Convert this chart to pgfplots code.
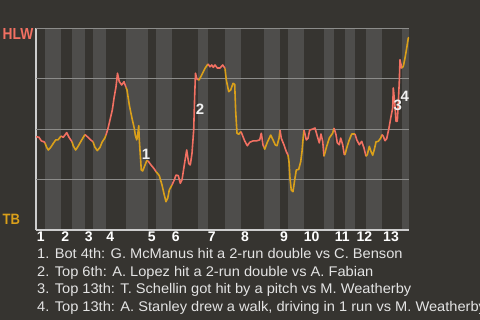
\documentclass[border=0pt]{standalone}
\usepackage{pgfplots}
\pgfplotsset{compat=1.18}
\usepackage{fontspec}
\setmainfont{Liberation Sans}
\definecolor{bg}{RGB}{54,52,48}
\definecolor{band}{RGB}{78,77,75}
\definecolor{hlw}{RGB}{242,112,98}
\definecolor{tb}{RGB}{218,160,26}
\definecolor{gridc}{RGB}{140,140,138}
\definecolor{axc}{RGB}{205,205,205}
\definecolor{txt}{RGB}{228,228,228}
\tikzset{rl/.style={hlw, line width=1.6pt, line join=round},
         yl/.style={tb, line width=1.6pt, line join=round},
         gl/.style={gridc, line width=0.9pt}}
\begin{document}
\begin{tikzpicture}
\fill[bg] (0pt,0pt) rectangle (480pt,320pt);
\begin{axis}[
  at={(36pt,90pt)}, anchor=south west,
  scale only axis, width=373pt, height=202pt,
  xmin=36, xmax=409, ymin=0, ymax=1,
  axis x line=bottom, axis y line=left,
  axis line style={axc, line width=1.2pt, -},
  ytick=\empty,
  major tick length=0pt,
  xtick={40.7,65.3,88.8,110.3,151.7,175.7,211.7,245,284,311.7,342.3,364.3,391},
  xticklabels={1,2,3,4,5,6,7,8,9,10,11,12,13},
  xticklabel style={font=\bfseries\fontsize{14}{14}\selectfont, text=white, inner sep=0pt, yshift=-1.5pt},
]
\fill[band] (axis cs:45,0.003) rectangle (axis cs:61,1);
\fill[band] (axis cs:72,0.003) rectangle (axis cs:85,1);
\fill[band] (axis cs:93,0.003) rectangle (axis cs:106,1);
\fill[band] (axis cs:126,0.003) rectangle (axis cs:148,1);
\fill[band] (axis cs:156,0.003) rectangle (axis cs:172,1);
\fill[band] (axis cs:198,0.003) rectangle (axis cs:208,1);
\fill[band] (axis cs:225,0.003) rectangle (axis cs:241,1);
\fill[band] (axis cs:264,0.003) rectangle (axis cs:280,1);
\fill[band] (axis cs:288,0.003) rectangle (axis cs:304,1);
\fill[band] (axis cs:324,0.003) rectangle (axis cs:334,1);
\fill[band] (axis cs:345,0.003) rectangle (axis cs:355,1);
\fill[band] (axis cs:366,0.003) rectangle (axis cs:382,1);
\fill[band] (axis cs:402,0.003) rectangle (axis cs:409,1);
\addplot[gl] coordinates {(36,0.25)(409,0.25)};
\addplot[gl] coordinates {(36,0.5)(409,0.5)};
\addplot[gl] coordinates {(36,0.75)(409,0.75)};
\addplot[gl] coordinates {(36,1)(409,1)};
\addplot[rl] coordinates {(36,0.462)(39,0.459)(41.3,0.441)(44,0.437)(45,0.430)};
\addplot[yl] coordinates {(45,0.430)(46.7,0.409)(48.3,0.396)(50.7,0.409)(53.3,0.429)(55.7,0.446)(58,0.446)(61,0.465)};
\addplot[rl] coordinates {(61,0.465)(63.3,0.459)(66.7,0.482)(69,0.459)(72,0.437)};
\addplot[yl] coordinates {(72,0.437)(73.3,0.416)(75.7,0.396)(78.3,0.416)(80.7,0.437)(83.3,0.459)(85,0.472)};
\addplot[rl] coordinates {(85,0.472)(88,0.459)(90.7,0.446)(93,0.437)};
\addplot[yl] coordinates {(93,0.437)(94.7,0.412)(97.3,0.393)(100,0.409)(102.3,0.437)(104.7,0.454)(106,0.470)};
\addplot[rl] coordinates {(106,0.470)(108,0.503)(110,0.545)(112.3,0.594)(114,0.652)(116,0.709)(117.5,0.776)(119.3,0.734)(121.7,0.718)(124,0.734)(126,0.706)};
\addplot[yl] coordinates {(126,0.706)(127,0.693)(129.3,0.619)(132,0.553)(134.3,0.503)(135.3,0.470)(136.7,0.446)(137.7,0.470)(138.7,0.516)(139.3,0.446)(140.3,0.371)(141.3,0.297)(142.7,0.292)(144.3,0.313)(146.7,0.342)(148,0.342)};
\addplot[rl] coordinates {(148,0.342)(151,0.322)(154.3,0.302)(156,0.289)};
\addplot[yl] coordinates {(156,0.289)(159.3,0.269)(162,0.223)(164.3,0.173)(166,0.140)(167.7,0.157)(169.3,0.198)(172,0.223)};
\addplot[rl] coordinates {(172,0.223)(174.3,0.248)(176,0.272)(178.3,0.269)(180.3,0.231)(182,0.248)(184.3,0.322)(186.7,0.396)(188.7,0.330)(190.3,0.322)(192,0.380)(193.7,0.495)(194.7,0.668)(195.5,0.776)(196.7,0.751)(198,0.743)};
\addplot[yl] coordinates {(198,0.743)(199,0.743)(201.7,0.767)(205,0.800)(208,0.822)};
\addplot[rl] coordinates {(208,0.822)(210,0.808)(211.7,0.817)(213.3,0.805)(215,0.817)(217.3,0.802)(220,0.802)(222.7,0.817)(225,0.800)};
\addplot[yl] coordinates {(225,0.800)(226.3,0.743)(228.7,0.685)(230.7,0.693)(233,0.726)(234.7,0.721)(235.7,0.586)(237,0.479)(238.7,0.474)(241,0.487)};
\addplot[rl] coordinates {(241,0.487)(243,0.462)(244.7,0.441)(247.3,0.417)(249.7,0.434)(253,0.441)(256.3,0.441)(259.7,0.446)(261.3,0.479)(263,0.421)(264,0.410)};
\addplot[yl] coordinates {(264,0.410)(264.7,0.400)(267.3,0.434)(270.7,0.470)(273,0.446)(275.3,0.421)(277,0.417)(279,0.454)(280,0.495)};
\addplot[rl] coordinates {(280,0.495)(281.3,0.454)(284,0.421)(286.3,0.388)(288,0.371)};
\addplot[yl] coordinates {(288,0.371)(289,0.338)(290,0.256)(291.3,0.198)(293,0.190)(294.7,0.248)(296.3,0.297)(298.7,0.300)(300.7,0.338)(302,0.388)(303,0.446)(304,0.495)};
\addplot[rl] coordinates {(304,0.495)(306.3,0.446)(308,0.454)(309.7,0.495)(313,0.500)(315,0.505)(317.3,0.464)(319.3,0.431)(321,0.475)(322.7,0.439)(324,0.365)};
\addplot[yl] coordinates {(324,0.365)(326.7,0.414)(329.3,0.455)(332.7,0.480)(334,0.505)};
\addplot[rl] coordinates {(334,0.505)(336,0.472)(337.3,0.431)(339.3,0.422)(340.7,0.455)(342.7,0.422)(344.3,0.373)(345,0.373)};
\addplot[yl] coordinates {(345,0.373)(346.7,0.406)(349,0.442)(351.7,0.475)(355,0.475)};
\addplot[rl] coordinates {(355,0.475)(356.7,0.447)(359.3,0.422)(361.7,0.439)(364,0.406)(366,0.365)};
\addplot[yl] coordinates {(366,0.365)(367.3,0.373)(369.3,0.414)(371,0.389)(372.7,0.370)(374.3,0.398)(376,0.436)(378.3,0.439)(380.7,0.455)(382,0.472)};
\addplot[rl] coordinates {(382,0.472)(383.3,0.464)(385,0.442)(386.7,0.452)(389,0.505)(390.7,0.554)(392.7,0.604)(393.3,0.703)(395,0.612)(396,0.538)(397.3,0.538)(398.3,0.629)(399.3,0.736)(400,0.843)(401.7,0.802)(402,0.802)};
\addplot[yl] coordinates {(402,0.802)(403.3,0.810)(405,0.851)(406.7,0.901)(408.3,0.950)(409,0.954)};
\node[font=\bfseries\fontsize{15}{15}\selectfont, text=white!94!black, inner sep=0pt] at (axis cs:146,0.376) {1};
\node[font=\bfseries\fontsize{15}{15}\selectfont, text=white!94!black, inner sep=0pt] at (axis cs:200,0.600) {2};
\node[font=\bfseries\fontsize{15}{15}\selectfont, text=white!94!black, inner sep=0pt] at (axis cs:397.8,0.618) {3};
\node[font=\bfseries\fontsize{15}{15}\selectfont, text=white!94!black, inner sep=0pt] at (axis cs:404.7,0.660) {4};
\end{axis}
\node[anchor=base west, inner sep=0pt, text=hlw, font=\bfseries\fontsize{16}{16}\selectfont] at (2.5pt,280.7pt) {\scalebox{0.86}[1]{HLW}};
\node[anchor=base west, inner sep=0pt, text=tb, font=\bfseries\fontsize{15}{15}\selectfont] at (2.5pt,95pt) {\scalebox{0.87}[1]{TB}};
\begin{scope}[every node/.style={overlay, anchor=base west, inner sep=0pt, text=txt, font=\fontsize{14}{14}\selectfont}]
\node at (37pt,61.3pt) {\scalebox{1.045}[1]{1. Bot 4th: G. McManus hit a 2-run double vs C. Benson}};
\node at (37pt,43.7pt) {\scalebox{1.045}[1]{2. Top 6th: A. Lopez hit a 2-run double vs A. Fabian}};
\node at (37pt,26.3pt) {\scalebox{1.045}[1]{3. Top 13th: T. Schellin got hit by a pitch vs M. Weatherby}};
\node at (37pt,8.7pt) {\scalebox{1.045}[1]{4. Top 13th: A. Stanley drew a walk, driving in 1 run vs M. Weatherby}};
\end{scope}
\end{tikzpicture}
\end{document}
